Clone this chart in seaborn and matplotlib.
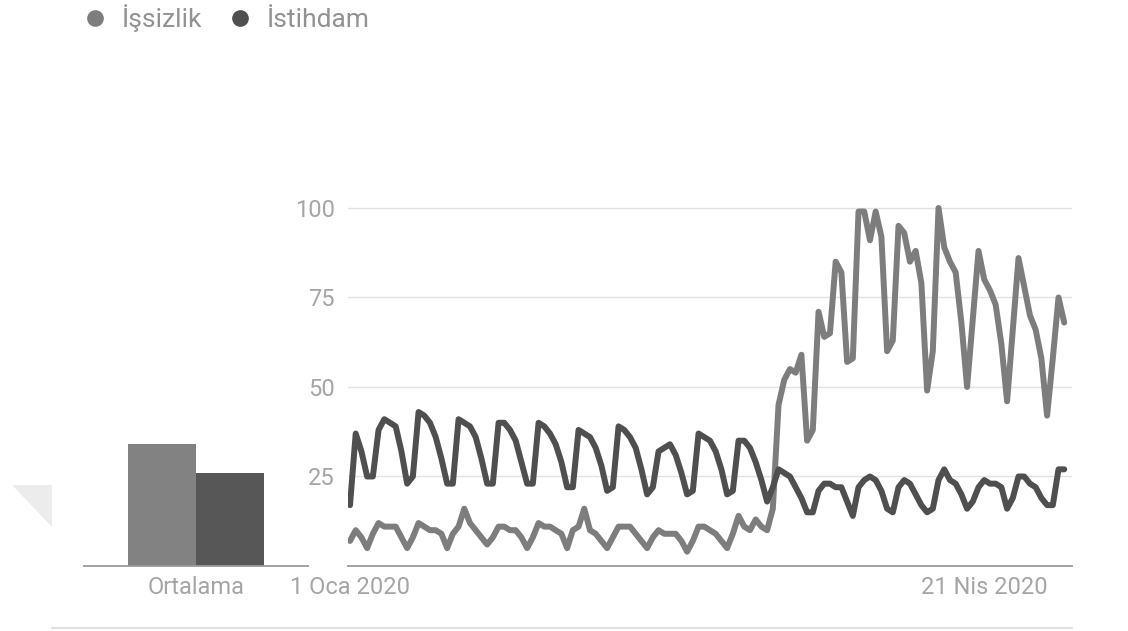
import matplotlib.pyplot as plt
from matplotlib.lines import Line2D
from matplotlib.patches import Polygon
import pandas as pd
import seaborn as sns

sns.set_theme(style='white')
plt.rcParams['font.family'] = ['Roboto', 'DejaVu Sans']

# daily Google Trends values, 1 Jan 2020 - 5 May 2020
days = pd.date_range('2020-01-01', '2020-05-05', freq='D')

issizlik = [7, 10, 8, 5, 9,
            12, 11, 11, 11, 8, 5, 8,
            12, 11, 10, 10, 9, 5, 9,
            11, 16, 12, 10, 8, 6, 8,
            11, 11, 10, 10, 8, 5, 8,
            12, 11, 11, 10, 9, 5, 10,
            11, 16, 10, 9, 7, 5, 8,
            11, 11, 11, 9, 7, 5, 8,
            10, 9, 9, 9, 7, 4, 7,
            11, 11, 10, 9, 7, 5, 9,
            14, 11, 10, 13, 11, 10, 16,
            45, 52, 55, 54, 59, 35, 38,
            71, 64, 65, 85, 82, 57, 58,
            99, 99, 91, 99, 92, 60, 63,
            95, 93, 85, 88, 79, 49, 60,
            100, 89, 85, 82, 68, 50, 69,
            88, 80, 77, 73, 62, 46, 66,
            86, 78, 70, 66, 58, 42, 58,
            75, 68]

istihdam = [17, 37, 32, 25, 25,
            38, 41, 40, 39, 32, 23, 25,
            43, 42, 40, 36, 30, 23, 23,
            41, 40, 39, 36, 30, 23, 23,
            40, 40, 38, 35, 29, 23, 23,
            40, 39, 37, 34, 29, 22, 22,
            38, 37, 36, 33, 28, 21, 22,
            39, 38, 36, 33, 27, 20, 22,
            32, 33, 34, 31, 26, 20, 21,
            37, 36, 35, 32, 27, 20, 21,
            35, 35, 33, 29, 24, 18, 22,
            27, 26, 25, 22, 19, 15, 15,
            21, 23, 23, 22, 22, 18, 14,
            22, 24, 25, 24, 21, 16, 15,
            22, 24, 23, 20, 17, 15, 16,
            24, 27, 24, 23, 20, 16, 18,
            22, 24, 23, 23, 22, 16, 19,
            25, 25, 23, 22, 19, 17, 17,
            27, 27]

series_names = ['İşsizlik', 'İstihdam']
averages = [34, 26]
avg_label = 'Ortalama'
tick_dates = ['2020-01-01', '2020-04-21']
tick_labels = ['1 Oca 2020', '21 Nis 2020']
y_ticks = [25, 50, 75, 100]

palette = {'İşsizlik': '#7d7d7d', 'İstihdam': '#4f4f4f'}
bar_palette = {'İşsizlik': '#828282', 'İstihdam': '#575757'}
label_col = '#a5a5a5'

df = pd.DataFrame({
    'tarih': list(days) * 2,
    'deger': issizlik + istihdam,
    'seri': [n for n in series_names for _ in days],
})

W, H = 1128, 631
fig = plt.figure(figsize=(W / 100, H / 100), dpi=100)

# average bars (added first so the trend axes labels sit on top)
bax = fig.add_axes([84 / W, 65 / H, 224 / W, 365.2 / H])
bax.patch.set_visible(False)
sns.barplot(x=[avg_label] * 2, y=averages, hue=series_names, palette=bar_palette,
            width=0.607, saturation=1, linewidth=0, legend=False, ax=bax)
bax.set_xlim(-0.5, 0.5)
bax.set_ylim(0, 102)
bax.set_yticks([])
bax.set_xlabel('')
bax.tick_params(axis='x', length=0, labelsize=17, labelcolor=label_col, pad=7)
for s in ['top', 'right', 'left']:
    bax.spines[s].set_visible(False)
bax.spines['bottom'].set_color('#9a9a9a')
bax.spines['bottom'].set_linewidth(1.3)

# main trend chart
ax = fig.add_axes([348 / W, 65 / H, 724 / W, 365.2 / H])
ax.patch.set_visible(False)
sns.lineplot(data=df, x='tarih', y='deger', hue='seri', palette=palette,
             linewidth=4.3, legend=False, ax=ax)
ax.set_xlim(days[0] - pd.Timedelta(days=0.35), days[0] + pd.Timedelta(days=126.36))
ax.set_ylim(0, 102)
ax.set_yticks(y_ticks)
ax.set_xticks(pd.to_datetime(tick_dates))
ax.set_xticklabels(tick_labels)
ax.set_xlabel('')
ax.set_ylabel('')
ax.yaxis.grid(True, color='#e2e2e2', linewidth=1)
ax.xaxis.grid(False)
ax.set_axisbelow(True)
ax.tick_params(axis='both', length=0, labelsize=17, labelcolor=label_col)
ax.tick_params(axis='y', pad=9.5)
ax.tick_params(axis='x', pad=7)
for s in ['top', 'right', 'left']:
    ax.spines[s].set_visible(False)
ax.spines['bottom'].set_color('#9a9a9a')
ax.spines['bottom'].set_linewidth(1.3)

# legend
handles = [Line2D([], [], marker='o', linestyle='', markersize=11,
                  markerfacecolor=palette[n], markeredgecolor=palette[n]) for n in series_names]
leg = fig.legend(handles, series_names, loc='upper left', bbox_to_anchor=(82 / W, 1 - 4 / H),
                 ncol=2, frameon=False, fontsize=19, handlelength=1.0, handletextpad=0.5,
                 columnspacing=0.95, borderpad=0, borderaxespad=0)
for t in leg.get_texts():
    t.set_color('#929292')

# faint triangle at left edge and bottom separator
fig.patches.append(Polygon([(12 / W, 1 - 485 / H), (52 / W, 1 - 485 / H), (52 / W, 1 - 527 / H)],
                           closed=True, transform=fig.transFigure, facecolor='#ececec',
                           edgecolor='none'))
fig.lines.append(Line2D([52 / W, 1072 / W], [1 - 628 / H, 1 - 628 / H], transform=fig.transFigure,
                        color='#e0e0e0', linewidth=1.5))

fig.savefig('out.png', dpi=100)
